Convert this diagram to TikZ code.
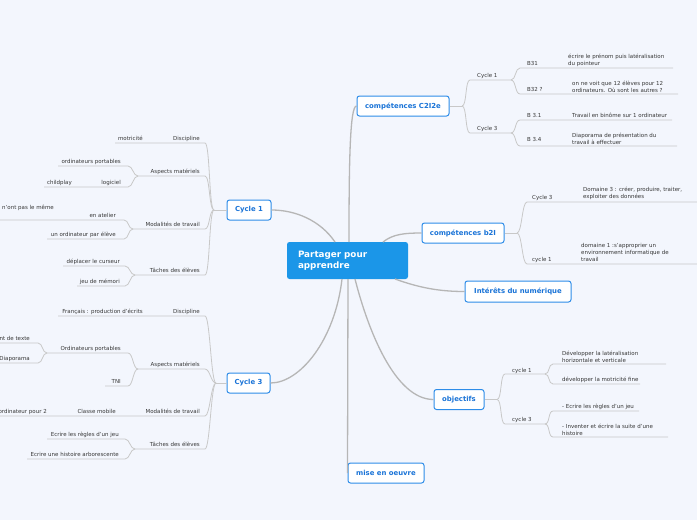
\documentclass[tikz,border=0pt]{standalone}
\usepackage{fontspec}
\setmainfont{DejaVu Sans}
\definecolor{bg}{RGB}{243,246,253}
\definecolor{lnc}{RGB}{182,182,182}
\definecolor{ulc}{RGB}{200,200,200}
\definecolor{nblue}{RGB}{45,140,232}
\definecolor{tblue}{RGB}{25,115,215}
\definecolor{cblue}{RGB}{27,150,232}
\definecolor{txt}{RGB}{55,55,55}
\begin{document}
\begin{tikzpicture}[x=1pt,y=-1pt,
  mainnode/.style={draw=nblue, line width=1pt, fill=white, rounded corners=2.5pt, text=tblue, font=\fontsize{6.9}{8}\selectfont\bfseries, inner sep=0, minimum height=20},
  trunk/.style={draw=lnc, line width=1.3pt},
  conn/.style={draw=ulc, line width=0.8pt},
  lt/.style={font=\fontsize{5.5}{7}\selectfont, text=txt, inner sep=0, anchor=base east},
  rt/.style={lt, anchor=base west},
  rtm/.style={lt, align=left, anchor=south west},
]
\fill[bg] (0,0) rectangle (697,520);
\useasboundingbox (0,0) rectangle (697,520);

% ---------- main nodes ----------
\node[fill=cblue, rounded corners=2.5pt, text=white, font=\fontsize{8.8}{11}\selectfont\bfseries, text width=99, align=left, inner xsep=11, inner ysep=0, minimum height=37] (center) at (347.5,260.5) {Partager pour\\apprendre};
\node[mainnode, minimum width=92] (c2i2e) at (403,106) {compétences C2I2e};
\node[mainnode, minimum width=82] (b2i) at (463,233) {compétences b2I};
\node[mainnode, minimum width=106, minimum height=21] (interets) at (518,291.5) {Intérêts du numérique};
\node[mainnode, minimum width=50] (objectifs) at (459,399.5) {objectifs};
\node[mainnode, minimum width=76] (mise) at (386,473) {mise en oeuvre};
\node[mainnode, minimum width=44] (cyc1) at (249,210) {Cycle 1};
\node[mainnode, minimum width=43] (cyc3) at (248.5,383) {Cycle 3};

% ---------- trunk connectors ----------
\coordinate (t1) at (349,242);
\coordinate (t2) at (383,242);
\coordinate (t3) at (395,279);
\coordinate (t4) at (355,279);
\coordinate (t5) at (348,279);
\coordinate (t6) at (342,279);
\coordinate (t7) at (335,242);
\begin{scope}[on background layer/.style={}]
\draw[trunk] (t1) .. controls (349,160) and (350,106) .. (c2i2e.west);
\draw[trunk] (t2) .. controls (393,234) and (405,233) .. (b2i.west);
\draw[trunk] (t3) .. controls (420,288) and (440,291.5) .. (interets.west);
\draw[trunk] (t4) .. controls (368,330) and (395,399.5) .. (objectifs.west);
\draw[trunk] (t5) -- (mise.west);
\draw[trunk] (t6) .. controls (335,340) and (300,383) .. (cyc3.east);
\draw[trunk] (t7) .. controls (320,220) and (295,210) .. (cyc1.east);
\end{scope}

% ---------- Cycle 1 (left) ----------
\coordinate (j1) at (214,210);
\draw[conn] (cyc1.west) -- (j1);
\coordinate (a1r) at (205,143); \coordinate (a1l) at (115,143);
\draw[conn] (j1) .. controls +(-5,0) and +(5,0) .. (a1r) -- (a1l);
\node[lt] (disc1) at (200,140) {Discipline};
\node[lt] (motr) at (143,140) {motricité};
\coordinate (a2r) at (205,176); \coordinate (a2j) at (138,176);
\draw[conn] (j1) .. controls +(-5,0) and +(5,0) .. (a2r) -- (a2j);
\node[lt] (asp1) at (200,173) {Aspects matériels};
\coordinate (a21r) at (128,166); \coordinate (a21l) at (58,166);
\draw[conn] (a2j) .. controls +(-5,0) and +(5,0) .. (a21r) -- (a21l);
\node[lt] (ordp1) at (121,163) {ordinateurs portables};
\coordinate (a22r) at (128,187); \coordinate (a22l) at (44,187);
\draw[conn] (a2j) .. controls +(-5,0) and +(5,0) .. (a22r) -- (a22l);
\node[lt] (logi) at (121,184) {logiciel};
\node[lt] (childp) at (72,184) {childplay};
\coordinate (a3r) at (205,229); \coordinate (a3j) at (133,229);
\draw[conn] (j1) .. controls +(-5,0) and +(5,0) .. (a3r) -- (a3j);
\node[lt] (mod1) at (200,226) {Modalités de travail};
\coordinate (a31r) at (124,220); \coordinate (a31l) at (0,220);
\draw[conn] (a3j) .. controls +(-5,0) and +(5,0) .. (a31r) -- (a31l);
\node[lt] (atel) at (116,217) {en atelier};
\node[lt] (nont) at (54,209.5) {n'ont pas le même};
\coordinate (a32r) at (124,239); \coordinate (a32l) at (47,239);
\draw[conn] (a3j) .. controls +(-5,0) and +(5,0) .. (a32r) -- (a32l);
\node[lt] (upe) at (116,236) {un ordinateur par élève};
\coordinate (a4r) at (205,275); \coordinate (a4j) at (135,275);
\draw[conn] (j1) .. controls +(-5,0) and +(5,0) .. (a4r) -- (a4j);
\node[lt] (tach1) at (200,272) {Tâches des élèves};
\coordinate (a41r) at (125,266); \coordinate (a41l) at (63,266);
\draw[conn] (a4j) .. controls +(-5,0) and +(5,0) .. (a41r) -- (a41l);
\node[lt] (depl) at (120,263) {déplacer le curseur};
\coordinate (a42r) at (125,286); \coordinate (a42l) at (77,286);
\draw[conn] (a4j) .. controls +(-5,0) and +(5,0) .. (a42r) -- (a42l);
\node[lt] (jeu) at (120,283) {jeu de mémori};

% ---------- Cycle 3 (left) ----------
\coordinate (j3) at (216,383);
\draw[conn] (cyc3.west) -- (j3);
\coordinate (b1r) at (205,316); \coordinate (b1l) at (58,316);
\draw[conn] (j3) .. controls +(-5,0) and +(5,0) .. (b1r) -- (b1l);
\node[lt] (disc3) at (200,313) {Discipline};
\node[lt] (franc) at (143,313) {Français : production d'écrits};
\coordinate (b2r) at (205,369); \coordinate (b2j) at (138,369);
\draw[conn] (j3) .. controls +(-5,0) and +(5,0) .. (b2r) -- (b2j);
\node[lt] (asp3) at (200,366) {Aspects matériels};
\coordinate (b21r) at (128,353); \coordinate (b21j) at (47,353);
\draw[conn] (b2j) .. controls +(-5,0) and +(5,0) .. (b21r) -- (b21j);
\node[lt] (ordp3) at (121,350) {Ordinateurs portables};
\coordinate (b211r) at (38,343); \coordinate (b211l) at (0,343);
\draw[conn] (b21j) .. controls +(-5,0) and +(5,0) .. (b211r) -- (b211l);
\node[lt] (texte) at (30,340) {nt de texte};
\coordinate (b212r) at (38,363); \coordinate (b212l) at (0,363);
\draw[conn] (b21j) .. controls +(-5,0) and +(5,0) .. (b212r) -- (b212l);
\node[lt] (diapo3) at (30,360) {Diaporama};
\coordinate (b22r) at (128,386); \coordinate (b22l) at (105,386);
\draw[conn] (b2j) .. controls +(-5,0) and +(5,0) .. (b22r) -- (b22l);
\node[lt] (tni) at (121,383) {TNI};
\coordinate (b3r) at (205,416); \coordinate (b3l) at (0,416);
\draw[conn] (j3) .. controls +(-5,0) and +(5,0) .. (b3r) -- (b3l);
\node[lt] (mod3) at (200,413) {Modalités de travail};
\node[lt] (classe) at (116,413) {Classe mobile};
\node[lt] (opour) at (47,413) {ordinateur pour 2};
\coordinate (b4r) at (205,449); \coordinate (b4j) at (135,449);
\draw[conn] (j3) .. controls +(-5,0) and +(5,0) .. (b4r) -- (b4j);
\node[lt] (tach3) at (200,446) {Tâches des élèves};
\coordinate (b41r) at (125,439); \coordinate (b41l) at (47,439);
\draw[conn] (b4j) .. controls +(-5,0) and +(5,0) .. (b41r) -- (b41l);
\node[lt] (regles) at (119,436) {Ecrire les règles d'un jeu};
\coordinate (b42r) at (125,459); \coordinate (b42l) at (27,459);
\draw[conn] (b4j) .. controls +(-5,0) and +(5,0) .. (b42r) -- (b42l);
\node[lt] (hist) at (119,456) {Ecrire une histoire arborescente};

% ---------- compétences C2I2e (right) ----------
\coordinate (jc) at (462,106);
\draw[conn] (c2i2e.east) -- (jc);
\coordinate (cc1l) at (470,80); \coordinate (cc1j) at (511,80);
\draw[conn] (jc) .. controls +(5,0) and +(-5,0) .. (cc1l) -- (cc1j);
\node[rt] (cc1t) at (477,77) {Cycle 1};
\coordinate (b31l) at (520,68); \coordinate (b31r) at (673,68);
\draw[conn] (cc1j) .. controls +(5,0) and +(-5,0) .. (b31l) -- (b31r);
\node[rt] (b31t) at (527,65) {B31};
\node[rtm] (b31c) at (568,66.5) {écrire le prénom puis latéralisation\\du pointeur};
\coordinate (b32l) at (520,94); \coordinate (b32r) at (678,94);
\draw[conn] (cc1j) .. controls +(5,0) and +(-5,0) .. (b32l) -- (b32r);
\node[rt] (b32t) at (527,91) {B32 ?};
\node[rtm] (b32c) at (572,92.5) {on ne voit que 12 élèves pour 12\\ordinateurs. Où sont les autres ?};
\coordinate (cc3l) at (470,133); \coordinate (cc3j) at (511,133);
\draw[conn] (jc) .. controls +(5,0) and +(-5,0) .. (cc3l) -- (cc3j);
\node[rt] (cc3t) at (477,130.5) {Cycle 3};
\coordinate (b331l) at (520,120); \coordinate (b331r) at (672,120);
\draw[conn] (cc3j) .. controls +(5,0) and +(-5,0) .. (b331l) -- (b331r);
\node[rt] (b331t) at (527,117) {B 3.1};
\node[rt] (b331c) at (572,117) {Travail en binôme sur 1 ordinateur};
\coordinate (b334l) at (520,146); \coordinate (b334r) at (677,146);
\draw[conn] (cc3j) .. controls +(5,0) and +(-5,0) .. (b334l) -- (b334r);
\node[rt] (b334t) at (527,141.5) {B 3.4};
\node[rtm] (b334c) at (572,144.5) {Diaporama de présentation du\\travail à effectuer};

% ---------- compétences b2I (right) ----------
\coordinate (jb) at (517,233);
\draw[conn] (b2i.east) -- (jb);
\coordinate (bc3l) at (527,202); \coordinate (bc3r) at (697,202);
\draw[conn] (jb) .. controls +(5,0) and +(-5,0) .. (bc3l) -- (bc3r);
\node[rt] (bc3t) at (532,199.5) {Cycle 3};
\node[rtm] (dom3) at (583,200) {Domaine 3 : créer, produire, traiter,\\exploiter des données};
\coordinate (bc1l) at (527,264); \coordinate (bc1r) at (697,264);
\draw[conn] (jb) .. controls +(5,0) and +(-5,0) .. (bc1l) -- (bc1r);
\node[rt] (bc1t) at (532,261.5) {cycle 1};
\node[rtm] (dom1) at (581,262) {domaine 1 :s'approprier un\\environnement informatique de\\travail};

% ---------- objectifs (right) ----------
\coordinate (jo) at (497,399.5);
\draw[conn] (objectifs.east) -- (jo);
\coordinate (oc1l) at (505,374); \coordinate (oc1j) at (545,374);
\draw[conn] (jo) .. controls +(5,0) and +(-5,0) .. (oc1l) -- (oc1j);
\node[rt] (oc1t) at (512,372) {cycle 1};
\coordinate (o11l) at (553,364); \coordinate (o11r) at (666,364);
\draw[conn] (oc1j) .. controls +(5,0) and +(-5,0) .. (o11l) -- (o11r);
\node[rtm] (o11c) at (562,362.5) {Développer la latéralisation\\horizontale et verticale};
\coordinate (o12l) at (553,384); \coordinate (o12r) at (640,384);
\draw[conn] (oc1j) .. controls +(5,0) and +(-5,0) .. (o12l) -- (o12r);
\node[rt] (o12c) at (562,381.5) {développer la motricité fine};
\coordinate (oc3l) at (505,424); \coordinate (oc3j) at (545,424);
\draw[conn] (jo) .. controls +(5,0) and +(-5,0) .. (oc3l) -- (oc3j);
\node[rt] (oc3t) at (512,421.5) {cycle 3};
\coordinate (o31l) at (553,411); \coordinate (o31r) at (639,411);
\draw[conn] (oc3j) .. controls +(5,0) and +(-5,0) .. (o31l) -- (o31r);
\node[rt] (o31c) at (562,408) {- Ecrire les règles d'un jeu};
\coordinate (o32l) at (553,437); \coordinate (o32r) at (668,437);
\draw[conn] (oc3j) .. controls +(5,0) and +(-5,0) .. (o32l) -- (o32r);
\node[rtm] (o32c) at (562,435.5) {- Inventer et écrire la suite d'une\\histoire};
\end{tikzpicture}
\end{document}
